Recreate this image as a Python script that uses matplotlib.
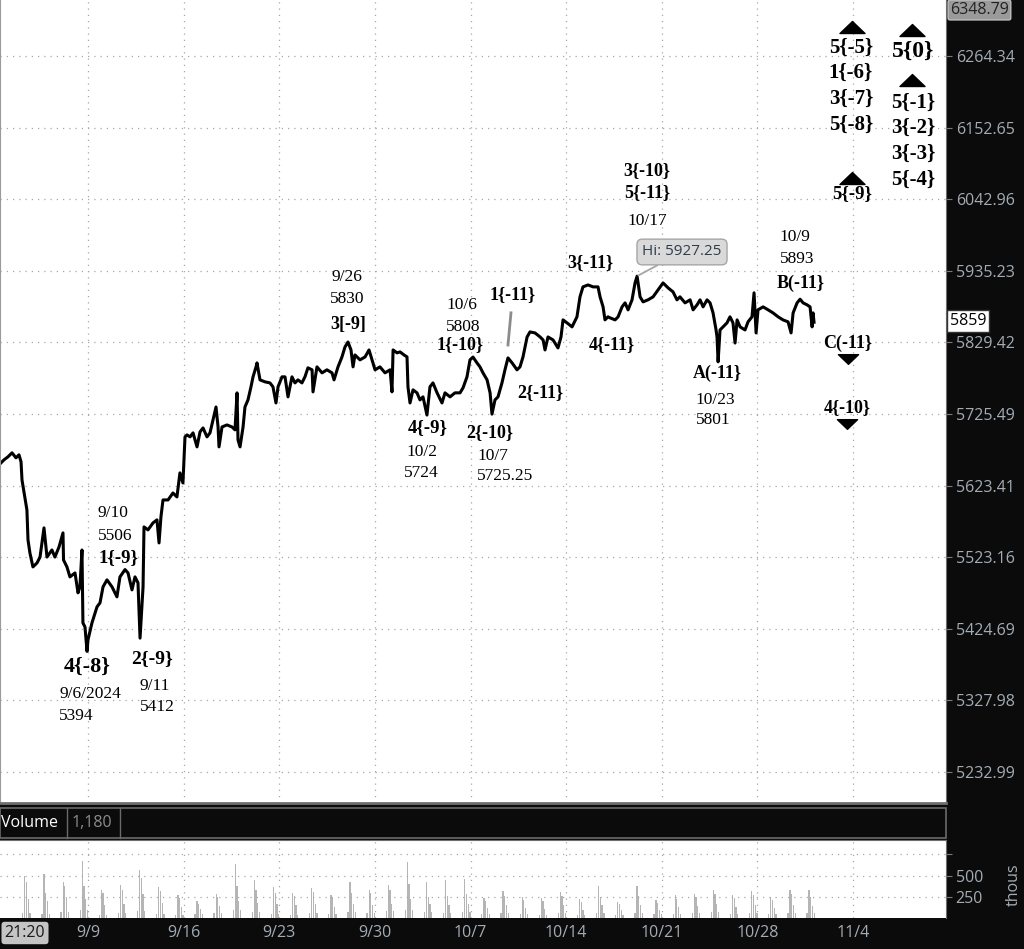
"""ES futures Elliott-wave chart (price pane with wave labels + volume pane) -> out.png"""
import matplotlib

matplotlib.use("Agg")
import matplotlib.pyplot as plt  # noqa: E402
from matplotlib.lines import Line2D  # noqa: E402
from matplotlib.path import Path  # noqa: E402
from matplotlib.patches import Rectangle  # noqa: E402
from matplotlib.ticker import NullLocator  # noqa: E402

# x unit: days from the 9/9 tick, 7 units per chart week
t_days = [
    -6.44, -6.15, -5.86, -5.56, -5.27, -5.05, -4.90, -4.83, -4.47, -4.39,
    -4.25, -4.03, -3.73, -3.51, -3.22, -3.00, -2.64, -2.42, -2.12, -1.83,
    -1.79, -1.54, -1.32, -0.95, -0.73, -0.59, -0.44, -0.37, -0.22, -0.07,
    0.00, 0.29, 0.66, 0.88, 1.10, 1.39, 1.76, 2.12, 2.34, 2.71,
    2.93, 3.22, 3.44, 3.66, 3.81, 4.03, 4.10, 4.39, 4.76, 5.05,
    5.20, 5.34, 5.49, 5.86, 6.22, 6.51, 6.73, 6.95, 7.10, 7.25,
    7.47, 7.69, 7.98, 8.20, 8.42, 8.71, 8.93, 9.15, 9.37, 9.52,
    9.59, 9.81, 10.17, 10.54, 10.76, 10.91, 10.98, 11.13, 11.35, 11.49,
    11.71, 11.93, 12.08, 12.30, 12.37, 12.59, 12.96, 13.32, 13.54, 13.76,
    13.91, 14.20, 14.42, 14.64, 14.93, 15.15, 15.37, 15.66, 15.88, 16.10,
    16.40, 16.47, 16.76, 17.13, 17.49, 17.86, 18.01, 18.30, 18.59, 18.81,
    19.03, 19.25, 19.40, 19.54, 19.91, 20.28, 20.57, 20.79, 21.01, 21.37,
    21.74, 22.11, 22.25, 22.33, 22.62, 22.84, 23.13, 23.35, 23.42, 23.57,
    23.79, 24.08, 24.30, 24.52, 24.81, 25.03, 25.25, 25.55, 25.91, 26.13,
    26.50, 26.86, 27.23, 27.45, 27.74, 27.96, 28.18, 28.47, 28.69, 28.91,
    29.21, 29.43, 29.57, 29.79, 30.01, 30.30, 30.52, 30.74, 31.04, 31.40,
    31.62, 31.84, 32.14, 32.35, 32.72, 33.09, 33.31, 33.45, 33.67, 34.04,
    34.40, 34.62, 34.77, 35.06, 35.43, 35.79, 36.01, 36.23, 36.60, 36.97,
    37.33, 37.48, 37.70, 37.84, 38.06, 38.21, 38.58, 38.80, 39.09, 39.31,
    39.53, 39.82, 40.04, 40.19, 40.41, 40.63, 40.99, 41.36, 41.72, 42.09,
    42.46, 42.82, 43.11, 43.33, 43.70, 44.07, 44.29, 44.58, 44.80, 45.02,
    45.31, 45.53, 45.75, 45.97, 46.04, 46.12, 46.26, 46.48, 46.77, 46.99,
    47.21, 47.36, 47.51, 47.73, 48.09, 48.31, 48.60, 48.75, 48.90, 49.04,
    49.41, 49.78, 50.14, 50.51, 50.87, 51.24, 51.46, 51.61, 51.90, 52.12,
    52.34, 52.63, 52.85, 53.00, 53.07, 53.14,
]
price = [
    5654.2, 5659.9, 5664.2, 5669.9, 5662.8, 5667.1, 5657.1, 5631.4, 5589.2, 5547.2,
    5529.0, 5509.7, 5515.2, 5523.4, 5564.0, 5523.4, 5533.2, 5523.4, 5537.4, 5557.0,
    5519.3, 5509.7, 5495.9, 5501.4, 5473.9, 5482.1, 5533.2, 5432.7, 5427.2, 5394.0,
    5409.6, 5432.7, 5454.7, 5460.2, 5482.1, 5491.8, 5482.1, 5468.4, 5495.9, 5506.0,
    5501.4, 5478.0, 5495.9, 5487.7, 5412.0, 5482.1, 5565.4, 5561.2, 5571.0, 5575.2,
    5543.0, 5579.4, 5603.2, 5603.2, 5613.0, 5607.4, 5641.4, 5627.1, 5692.7, 5695.5,
    5692.7, 5698.4, 5678.4, 5699.8, 5705.5, 5692.7, 5698.4, 5716.9, 5735.6, 5706.9,
    5678.4, 5706.9, 5709.8, 5706.9, 5702.7, 5756.0, 5688.4, 5678.4, 5706.9, 5735.6,
    5745.8, 5764.7, 5779.2, 5793.7, 5799.5, 5774.8, 5771.9, 5770.4, 5764.7, 5741.4,
    5764.7, 5779.2, 5779.2, 5750.2, 5779.2, 5770.4, 5774.8, 5770.4, 5779.2, 5792.3,
    5789.4, 5757.4, 5793.7, 5785.0, 5789.4, 5785.0, 5774.8, 5793.7, 5808.2, 5822.7,
    5830.0, 5818.4, 5793.7, 5811.1, 5803.9, 5808.2, 5818.4, 5803.9, 5789.4, 5793.7,
    5785.0, 5789.4, 5757.4, 5818.4, 5814.1, 5815.5, 5811.1, 5808.2, 5764.7, 5741.4,
    5760.3, 5756.0, 5745.8, 5750.2, 5724.0, 5764.7, 5770.4, 5756.0, 5741.4, 5756.0,
    5750.2, 5756.0, 5756.0, 5763.2, 5779.2, 5803.9, 5808.0, 5799.5, 5793.7, 5785.0,
    5774.8, 5756.0, 5725.3, 5745.8, 5750.2, 5770.4, 5789.4, 5806.8, 5799.5, 5789.4,
    5793.7, 5808.2, 5837.4, 5844.8, 5843.3, 5837.4, 5833.0, 5818.4, 5837.4, 5833.0,
    5821.3, 5837.4, 5862.5, 5858.1, 5852.2, 5867.0, 5896.5, 5911.3, 5914.2, 5911.3,
    5911.3, 5896.5, 5881.7, 5862.5, 5867.0, 5865.5, 5862.5, 5867.0, 5881.7, 5887.6,
    5877.3, 5892.1, 5917.2, 5927.25, 5896.5, 5889.1, 5892.1, 5896.5, 5906.8, 5917.2,
    5909.8, 5903.9, 5892.1, 5896.5, 5887.6, 5892.1, 5877.3, 5884.7, 5892.1, 5881.7,
    5892.1, 5887.6, 5872.8, 5847.7, 5837.4, 5801.0, 5847.7, 5852.2, 5858.1, 5867.0,
    5858.1, 5828.5, 5862.5, 5852.2, 5847.7, 5859.6, 5867.0, 5902.5, 5843.3, 5877.3,
    5881.7, 5877.3, 5872.8, 5867.0, 5862.5, 5859.6, 5843.3, 5872.8, 5887.6, 5893.0,
    5887.6, 5884.7, 5881.7, 5852.2, 5872.8, 5859.0,
]

# short grey stroke under the 1{-11} label
mark_t = [30.96, 30.74]
mark_p = [5872.9, 5825.6]

date_ticks = [0, 7, 14, 21, 28, 35, 42, 49, 56]
date_labels = ["9/9", "9/16", "9/23", "9/30", "10/7", "10/14", "10/21", "10/28", "11/4"]
price_ticks = [5232.99, 5327.98, 5424.69, 5523.16, 5623.41, 5725.49,
               5829.42, 5935.23, 6042.96, 6152.65, 6264.34]

# volume (thousands), one cluster per session, sessions -4 .. 37 around the cash open
sessions = list(range(-4, 38))
vol_peak = [500, 520, 430, 675, 325, 385, 570, 360, 270, 200, 280, 640, 450, 360,
            290, 350, 270, 420, 325, 385, 655, 422, 450, 461, 240, 318, 248, 240,
            306, 229, 372, 190, 372, 209, 267, 287, 333, 275, 318, 248, 326, 333]
vol_second = [420, 300, 380, 380, 300, 330, 470, 320, 240, 170, 250, 380, 330, 300,
              260, 310, 240, 300, 290, 330, 400, 250, 260, 280, 200, 260, 210, 200,
              260, 190, 250, 170, 260, 180, 230, 250, 280, 240, 270, 210, 280, 250]
vol_third = [230, 200, 250, 220, 150, 160, 280, 180, 130, 110, 140, 200, 180, 160,
             150, 170, 130, 160, 150, 170, 220, 160, 150, 170, 120, 150, 120, 110,
             150, 100, 150, 90, 150, 100, 130, 140, 160, 130, 150, 120, 150, 140]
vol_low = [60, 50, 70, 90, 40, 60, 80, 50, 40, 50, 60, 90, 70, 50, 40, 60, 50, 70,
           60, 80, 90, 70, 60, 70, 50, 60, 50, 40, 60, 40, 60, 40, 60, 50, 50, 60,
           70, 50, 60, 50, 60, 60]

W, H = 1024, 949
BG = "#0b0b0b"
AXIS_TXT = "#a3acb5"
GRID = dict(color="#a8a8a8", linestyle=(0, (1, 4)), linewidth=0.9)
SERIF = "Liberation Serif"
SANS = "Open Sans"

fig = plt.figure(figsize=(W / 100, H / 100), dpi=100, facecolor=BG)

# ---------------- price pane ----------------
ax = fig.add_axes([0, 1 - 803 / H, 946 / W, 803 / H], facecolor="white")
ax.plot(t_days, price, color="black", lw=2.2)
ax.plot(mark_t, mark_p, color="#8c8c8c", lw=2)
ax.set_yscale("log")
ax.set_xlim(-6.44, 62.8)
ax.set_ylim(5192.4, 6353.1)
ax.yaxis.tick_right()
ax.set_yticks(price_ticks)
ax.set_yticklabels([f"{v:.2f}" for v in price_ticks], family=SANS)
ax.yaxis.set_minor_locator(NullLocator())
ax.set_xticks(date_ticks)
ax.set_xticklabels([])
ax.tick_params(axis="y", colors="#7a7a7a", labelcolor=AXIS_TXT, labelsize=11.5,
               length=4, pad=3)
ax.tick_params(axis="x", length=0)
ax.grid(True, **GRID)
ax.spines["top"].set_visible(False)
ax.spines["left"].set_color("#9a9a9a")
ax.spines["right"].set_color("#6e6e6e")
ax.spines["bottom"].set_color("#6e6e6e")
ax.spines["bottom"].set_linewidth(2)


def label(x, y, s, size=12.5, bold=False):
    ax.text(x / 946, 1 - y / 803, s, transform=ax.transAxes, ha="center", va="center",
            fontsize=size, family=SERIF, fontweight="bold" if bold else "normal",
            color="black")


up_tri = Path([(-1, -0.48), (1, -0.48), (0, 0.48), (-1, -0.48)],
              [Path.MOVETO, Path.LINETO, Path.LINETO, Path.CLOSEPOLY])
down_tri = Path([(-1, 0.48), (1, 0.48), (0, -0.48), (-1, 0.48)],
                [Path.MOVETO, Path.LINETO, Path.LINETO, Path.CLOSEPOLY])


def tri(x, y, marker, size):
    ax.plot([x / 946], [1 - y / 803], marker=marker, ms=size, color="black",
            ls="none", transform=ax.transAxes, clip_on=False)


# wave labels
label(87, 667, "4{-8}", 16, True)
label(90, 694, "9/6/2024")
label(76, 716, "5394")
label(113, 513, "9/10")
label(115, 536, "5506")
label(118, 558, "1{-9}", 13.5, True)
label(152, 659, "2{-9}", 14, True)
label(155, 686, "9/11")
label(157, 707, "5412")
label(347, 277, "9/26")
label(347, 299, "5830")
label(348, 324, "3[-9]", 13, True)
label(462, 305, "10/6")
label(463, 327, "5808")
label(460, 345, "1{-10}", 13, True)
label(513, 295, "1{-11}", 13, True)
label(428, 428, "4{-9}", 13.5, True)
label(422, 452, "10/2")
label(421, 473, "5724")
label(490, 433, "2{-10}", 13, True)
label(493, 456, "10/7")
label(505, 476, "5725.25")
label(540, 393, "2{-11}", 13, True)
label(590, 263, "3{-11}", 13, True)
label(612, 345, "4{-11}", 13, True)
label(647, 171, "3{-10}", 13, True)
label(647, 193, "5{-11}", 13, True)
label(647, 221, "10/17")
label(717, 373, "A(-11}", 13, True)
label(715, 400, "10/23")
label(713, 420, "5801")
label(795, 237, "10/9")
label(797, 259, "5893")
label(801, 283, "B(-11}", 13, True)
label(848, 343, "C(-11}", 13, True)
tri(848, 359, down_tri, 14.5)
label(847, 408, "4{-10}", 13, True)
tri(847, 424, down_tri, 14.5)

# projected targets, right columns
tri(852, 27, up_tri, 18)
label(851, 48, "5{-5}", 15, True)
label(851, 73, "1{-6}", 15, True)
label(851, 99, "3{-7}", 15, True)
label(851, 125, "5{-8}", 15, True)
tri(852, 178, up_tri, 18)
label(852, 194, "5{-9}", 13.5, True)
tri(912, 30, up_tri, 18)
label(913, 51, "5{0}", 17, True)
tri(912, 80, up_tri, 18)
label(913, 103, "5{-1}", 15, True)
label(913, 128, "3{-2}", 15, True)
label(913, 154, "3{-3}", 15, True)
label(913, 180, "5{-4}", 15, True)

# high callout
hi_idx = price.index(max(price))
ax.annotate(f"Hi: {price[hi_idx]:.2f}", xy=(t_days[hi_idx], price[hi_idx]),
            xytext=(682 / 946, 1 - 252 / 803), textcoords="axes fraction",
            ha="center", va="center", fontsize=11, family=SANS, color="#2e3d4d",
            bbox=dict(boxstyle="round,pad=0.35", fc="#d9d9d9", ec="#a6a6a6"),
            arrowprops=dict(arrowstyle="-", color="#a6a6a6", lw=1.3,
                            shrinkA=0, shrinkB=1))

# boxed axis readouts
fig.text(950 / W, 1 - 10 / H, "6348.79", ha="left", va="center", fontsize=11.5,
         family=SANS, color="#222222",
         bbox=dict(boxstyle="round,pad=0.12", fc="#9a9a9a", ec="#c0c0c0"))
ax.text(1.004, 1 - 321 / 803, f"{price[-1]:.0f}", transform=ax.transAxes,
        ha="left", va="center", fontsize=11.5, family=SANS, color="black",
        bbox=dict(boxstyle="square,pad=0.2", fc="white", ec="#333333"))

# ---------------- volume header ----------------
fig.add_artist(Rectangle((0, 1 - 838 / H), 946 / W, 30 / H, transform=fig.transFigure,
                         fc=BG, ec="#6a6a6a", lw=1.2))
for xp in (67, 120):
    fig.add_artist(Line2D([xp / W, xp / W], [1 - 838 / H, 1 - 808 / H],
                          transform=fig.transFigure, color="#6a6a6a", lw=1))
fig.text(1 / W, 1 - 823 / H, "Volume", ha="left", va="center", fontsize=11.5,
         family=SANS, color="white")
fig.text(72 / W, 1 - 823 / H, "1,180", ha="left", va="center", fontsize=11.5,
         family=SANS, color="#8b8b8b")

# ---------------- volume pane ----------------
axv = fig.add_axes([0, 1 - 918 / H, 946 / W, 78 / H], facecolor="white")
sess_t = [(k + 0.7) * 1.4 for k in sessions]
bar_kw = dict(width=0.09, color="#b5b5b5", linewidth=0)
axv.bar([t - 0.15 for t in sess_t], vol_low, **bar_kw)
axv.bar(sess_t, vol_peak, **bar_kw)
axv.bar([t + 0.12 for t in sess_t], vol_second, **bar_kw)
axv.bar([t + 0.25 for t in sess_t], vol_third, **bar_kw)
axv.bar([t + 0.38 for t in sess_t], vol_low, **bar_kw)
axv.set_xlim(-6.44, 62.8)
axv.set_ylim(0, 920)
axv.yaxis.tick_right()
axv.set_yticks([250, 500, 750])
axv.set_yticklabels(["250", "500", ""], family=SANS)
axv.set_xticks(date_ticks)
axv.set_xticklabels(date_labels, family=SANS)
axv.tick_params(axis="y", colors="#7a7a7a", labelcolor=AXIS_TXT, labelsize=11.5,
                length=4, pad=3)
axv.tick_params(axis="x", length=0, labelcolor=AXIS_TXT, labelsize=11.5, pad=5)
axv.grid(True, **GRID)
for side in ("left", "bottom"):
    axv.spines[side].set_visible(False)
axv.spines["top"].set_color("#6e6e6e")
axv.spines["right"].set_color("#6e6e6e")

fig.text(1014 / W, 1 - 885 / H, "thous", rotation=90, ha="center", va="center",
         fontsize=11.5, family=SANS, color=AXIS_TXT)
fig.text(25 / W, 1 - 933 / H, "21:20", ha="center", va="center", fontsize=11.5,
         family=SANS, color="#1a1a1a",
         bbox=dict(boxstyle="round,pad=0.2", fc="#c4c4c4", ec="none"))

fig.savefig("out.png", dpi=100, facecolor=BG)
